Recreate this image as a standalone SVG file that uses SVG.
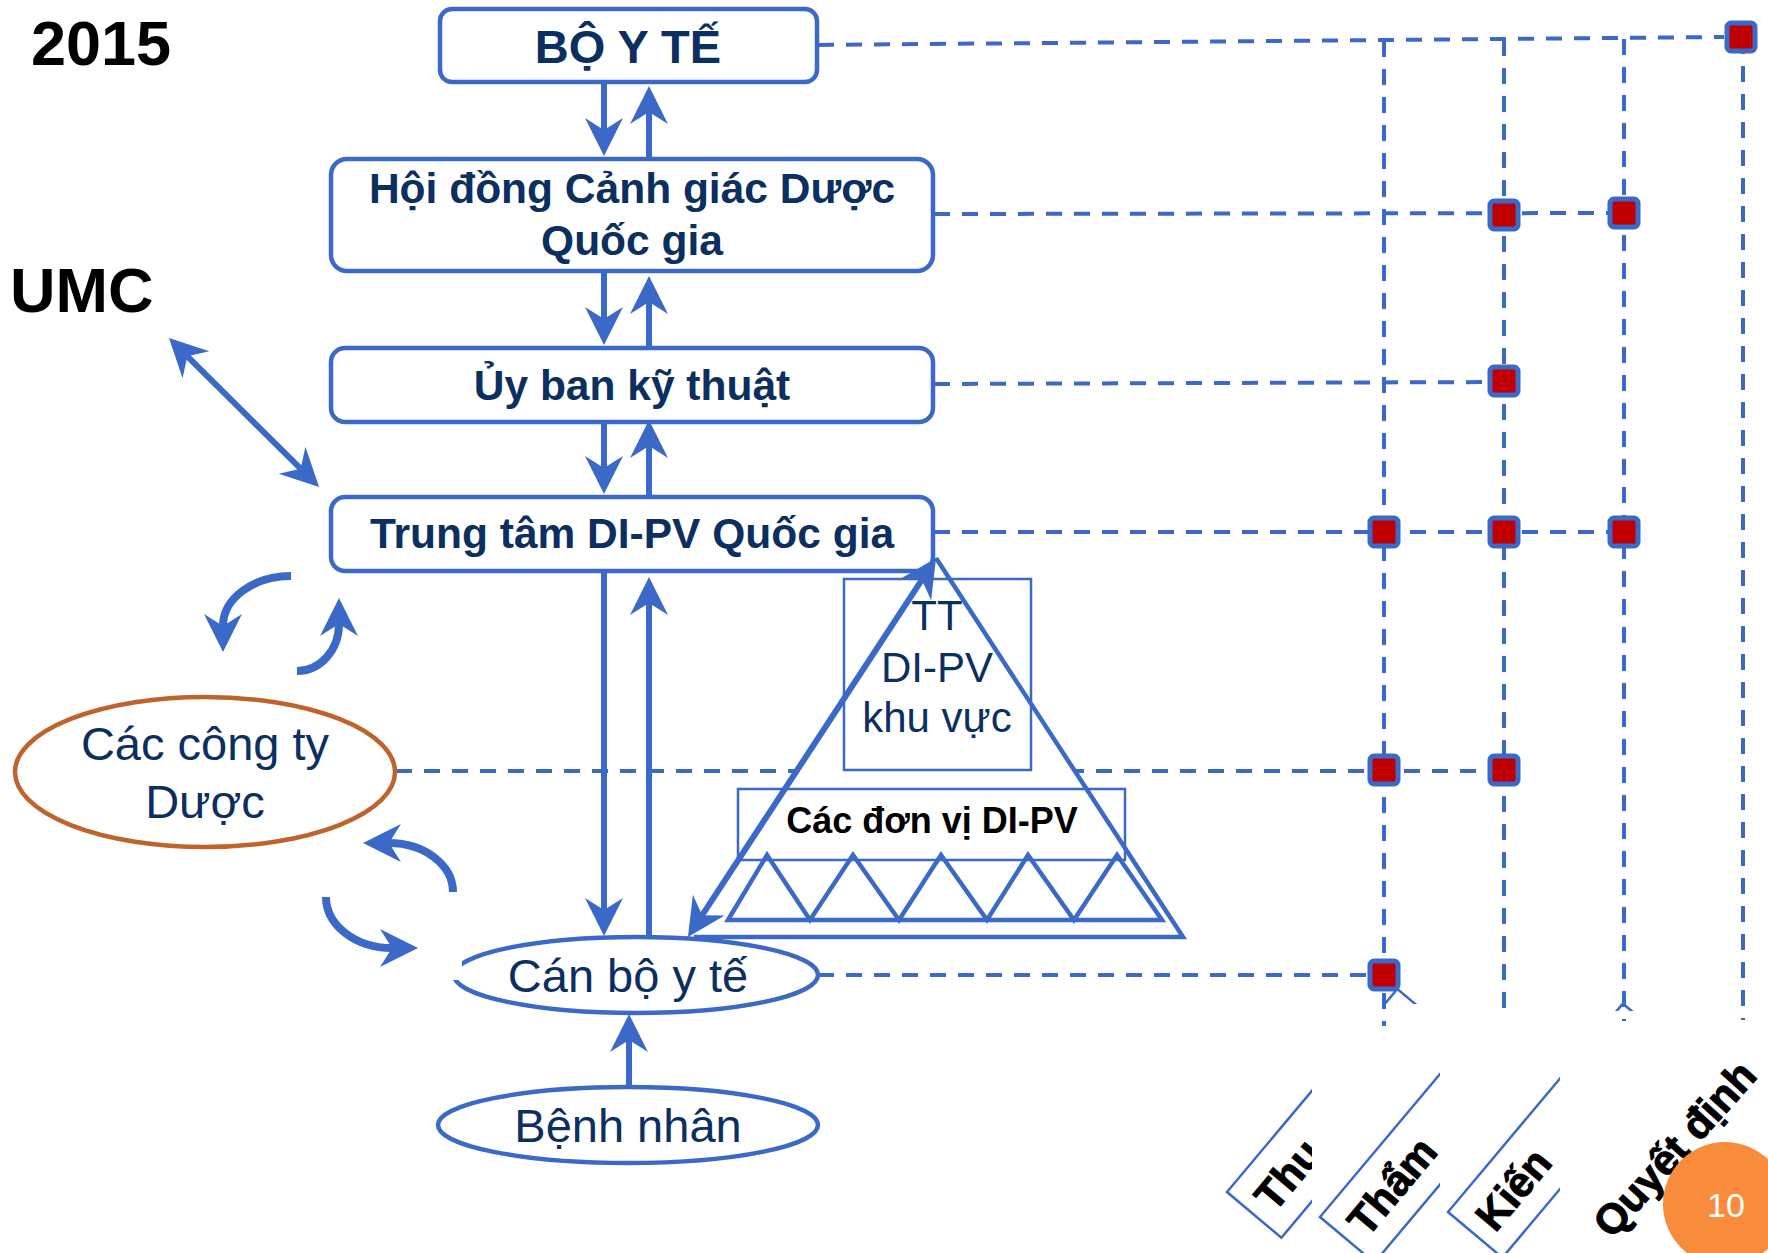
<svg xmlns="http://www.w3.org/2000/svg" width="1768" height="1253" viewBox="0 0 1768 1253">
<defs>
<style>
.box{fill:#fff;stroke:#3B69C7;stroke-width:4.5}
.ttl{font-family:"Liberation Sans",Arial,sans-serif;font-weight:bold;fill:#0B2F60;font-size:42.5px;text-anchor:middle}
.reg{font-family:"Liberation Sans",Arial,sans-serif;fill:#0B2F60;font-size:47px;text-anchor:middle}
.big{font-family:"Liberation Sans",Arial,sans-serif;font-weight:bold;fill:#000;font-size:63px}
.conn{stroke:#3B69C7;stroke-width:6;fill:none}
.curve{stroke:#3B69C7;stroke-width:8;fill:none}
.dash{stroke:#3B69C7;stroke-width:4;stroke-dasharray:16 12;fill:none}
.sq{fill:#C00000;stroke:#3B69C7;stroke-width:5}
.thin{fill:none;stroke:#3B69C7;stroke-width:2.5}
.edge{fill:none;stroke:#3B69C7;stroke-width:4.5;stroke-linejoin:miter}
.lbl{font-family:"Liberation Sans",Arial,sans-serif;font-weight:bold;font-size:42px;fill:#000;stroke:#000;stroke-width:1}
.panel{fill:#fff}
</style>
<marker id="ah" markerUnits="userSpaceOnUse" viewBox="-40 -21 42 42" markerWidth="42" markerHeight="42" refX="-26" refY="0" orient="auto-start-reverse">
<path d="M0,0 L-38,-19 L-26,0 L-38,19 Z" fill="#3B69C7"/>
</marker>
</defs>
<rect width="1768" height="1253" fill="#fff"/>

<g id="matrix-rows">
<path class="dash" d="M818 45 L1724 37"/>
<path class="dash" d="M934 214 L1624 213"/>
<path class="dash" d="M934 384 L1504 382"/>
<path class="dash" d="M934 532 L1624 532"/>
<path class="dash" d="M396 771 L1504 771"/>
<path class="dash" d="M818 975 L1384 975"/>
</g>

<g id="year"><text class="big" x="31" y="65">2015</text></g>
<g id="umc"><text class="big" x="10" y="312">UMC</text></g>

<g id="n-pyramid">
<polygon points="936,558 1183,937 690,937" fill="#fff"/>
<rect class="thin" x="844" y="579" width="187" height="191"/>
<rect class="thin" x="738" y="789" width="387" height="71"/>
<path class="edge" d="M936 558 L1183 937 L694 937"/>
<path class="edge" d="M728 920 L767 855 L810 920 L853 855 L899 920 L941 855 L987 920 L1028 855 L1074 920 L1117 855 L1162 920 Z"/>
<text class="ttl" style="font-weight:normal;font-size:42px" x="937" y="630">TT</text>
<text class="ttl" style="font-weight:normal;font-size:42px" x="937" y="682">DI-PV</text>
<text class="ttl" style="font-weight:normal;font-size:42px" x="937" y="732">khu vực</text>
<text class="ttl" style="fill:#000;font-size:36px" x="932" y="833">Các đơn vị DI-PV</text>
</g>

<g id="n-boyte">
<rect class="box" x="440" y="9" width="377" height="73" rx="12"/>
<text class="ttl" style="font-size:47px" x="628" y="63">BỘ Y TẾ</text>
</g>
<g id="n-hoidong">
<rect class="box" x="331" y="159" width="602" height="112" rx="16"/>
<text class="ttl" x="632" y="203">Hội đồng Cảnh giác Dược</text>
<text class="ttl" x="632" y="255">Quốc gia</text>
</g>
<g id="n-uyban">
<rect class="box" x="331" y="348" width="602" height="74" rx="14"/>
<text class="ttl" x="632" y="400">Ủy ban kỹ thuật</text>
</g>
<g id="n-trungtam">
<rect class="box" x="331" y="497" width="602" height="74" rx="14"/>
<text class="ttl" x="632" y="548">Trung tâm DI-PV Quốc gia</text>
</g>
<g id="n-congty">
<ellipse cx="205" cy="772" rx="190" ry="75" fill="#fff" stroke="#C0622B" stroke-width="4.5"/>
<text class="reg" x="205" y="760">Các công ty</text>
<text class="reg" x="205" y="818">Dược</text>
</g>
<g id="n-canbo">
<ellipse class="box" cx="636" cy="975" rx="182" ry="38"/>
<rect class="panel" x="440" y="930" width="22" height="50"/>
<text class="reg" x="628" y="992">Cán bộ y tế</text>
</g>
<g id="n-benhnhan">
<ellipse class="box" cx="628" cy="1125" rx="190" ry="38"/>
<text class="reg" x="628" y="1142">Bệnh nhân</text>
</g>

<g id="connectors">
<path class="conn" marker-end="url(#ah)" d="M604 84 L604 130"/>
<path class="conn" marker-end="url(#ah)" d="M649 157 L649 112"/>
<path class="conn" marker-end="url(#ah)" d="M604 272 L604 319"/>
<path class="conn" marker-end="url(#ah)" d="M649 347 L649 302"/>
<path class="conn" marker-end="url(#ah)" d="M604 423 L604 468"/>
<path class="conn" marker-end="url(#ah)" d="M649 496 L649 446"/>
<path class="conn" marker-end="url(#ah)" d="M604 572 L604 910"/>
<path class="conn" marker-end="url(#ah)" d="M649 937 L649 603"/>
<path class="conn" marker-end="url(#ah)" d="M629 1087 L629 1040"/>
<path class="conn" marker-start="url(#ah)" marker-end="url(#ah)" d="M187.4 356.3 L300.6 468.7"/>
<path class="conn" marker-start="url(#ah)" marker-end="url(#ah)" d="M921.8 579.8 L702.2 915.2"/>
<path class="curve" marker-end="url(#ah)" d="M291 576 A68 50 0 0 0 223 626"/>
<path class="curve" marker-end="url(#ah)" d="M297 671 A42 47 0 0 0 339 624"/>
<path class="curve" marker-end="url(#ah)" d="M453 892 A64 49 0 0 0 389 843"/>
<path class="curve" marker-end="url(#ah)" d="M326 897 A66 51 0 0 0 392 948"/>
</g>

<g id="headers">
<g transform="translate(1227,1192) rotate(-50)">
<rect class="thin" x="0" y="0" width="265" height="71"/>
<text class="lbl" x="14" y="50">Thu</text>
</g>
<rect class="panel" x="1312" y="1004" width="456" height="249"/>
<g transform="translate(1320,1217) rotate(-50)">
<rect class="thin" x="0" y="0" width="265" height="71"/>
<text class="lbl" x="14" y="50">Thẩm</text>
</g>
<rect class="panel" x="1440" y="1006" width="328" height="247"/>
<g transform="translate(1448,1212) rotate(-50)">
<rect class="thin" x="0" y="0" width="272" height="71"/>
<text class="lbl" x="14" y="50">Kiến</text>
</g>
<rect class="panel" x="1560" y="1011" width="208" height="242"/>
<text class="lbl" transform="translate(1612,1240) rotate(-48)">Quyết định</text>
</g>

<g id="matrix-cols">
<path class="dash" d="M1384 41 L1384 1026"/>
<path class="dash" d="M1504 40 L1504 1020"/>
<path class="dash" d="M1624 39 L1624 1021"/>
<path class="dash" d="M1743 38 L1743 1020"/>
</g>

<g id="matrix-marks">
<rect class="sq" x="1727" y="23" width="28" height="28" rx="4"/>
<rect class="sq" x="1490" y="201" width="28" height="28" rx="4"/>
<rect class="sq" x="1610" y="199" width="28" height="28" rx="4"/>
<rect class="sq" x="1490" y="367" width="28" height="28" rx="4"/>
<rect class="sq" x="1370" y="518" width="28" height="28" rx="4"/>
<rect class="sq" x="1490" y="518" width="28" height="28" rx="4"/>
<rect class="sq" x="1610" y="518" width="28" height="28" rx="4"/>
<rect class="sq" x="1370" y="756" width="28" height="28" rx="4"/>
<rect class="sq" x="1490" y="756" width="28" height="28" rx="4"/>
<rect class="sq" x="1370" y="961" width="28" height="28" rx="4"/>
</g>

<g id="page-number">
<circle cx="1725" cy="1204" r="62" fill="#F88B3C"/>
<text x="1726" y="1217" font-family="Liberation Sans, Arial, sans-serif" font-size="34" fill="#fff" text-anchor="middle">10</text>
</g>
</svg>
